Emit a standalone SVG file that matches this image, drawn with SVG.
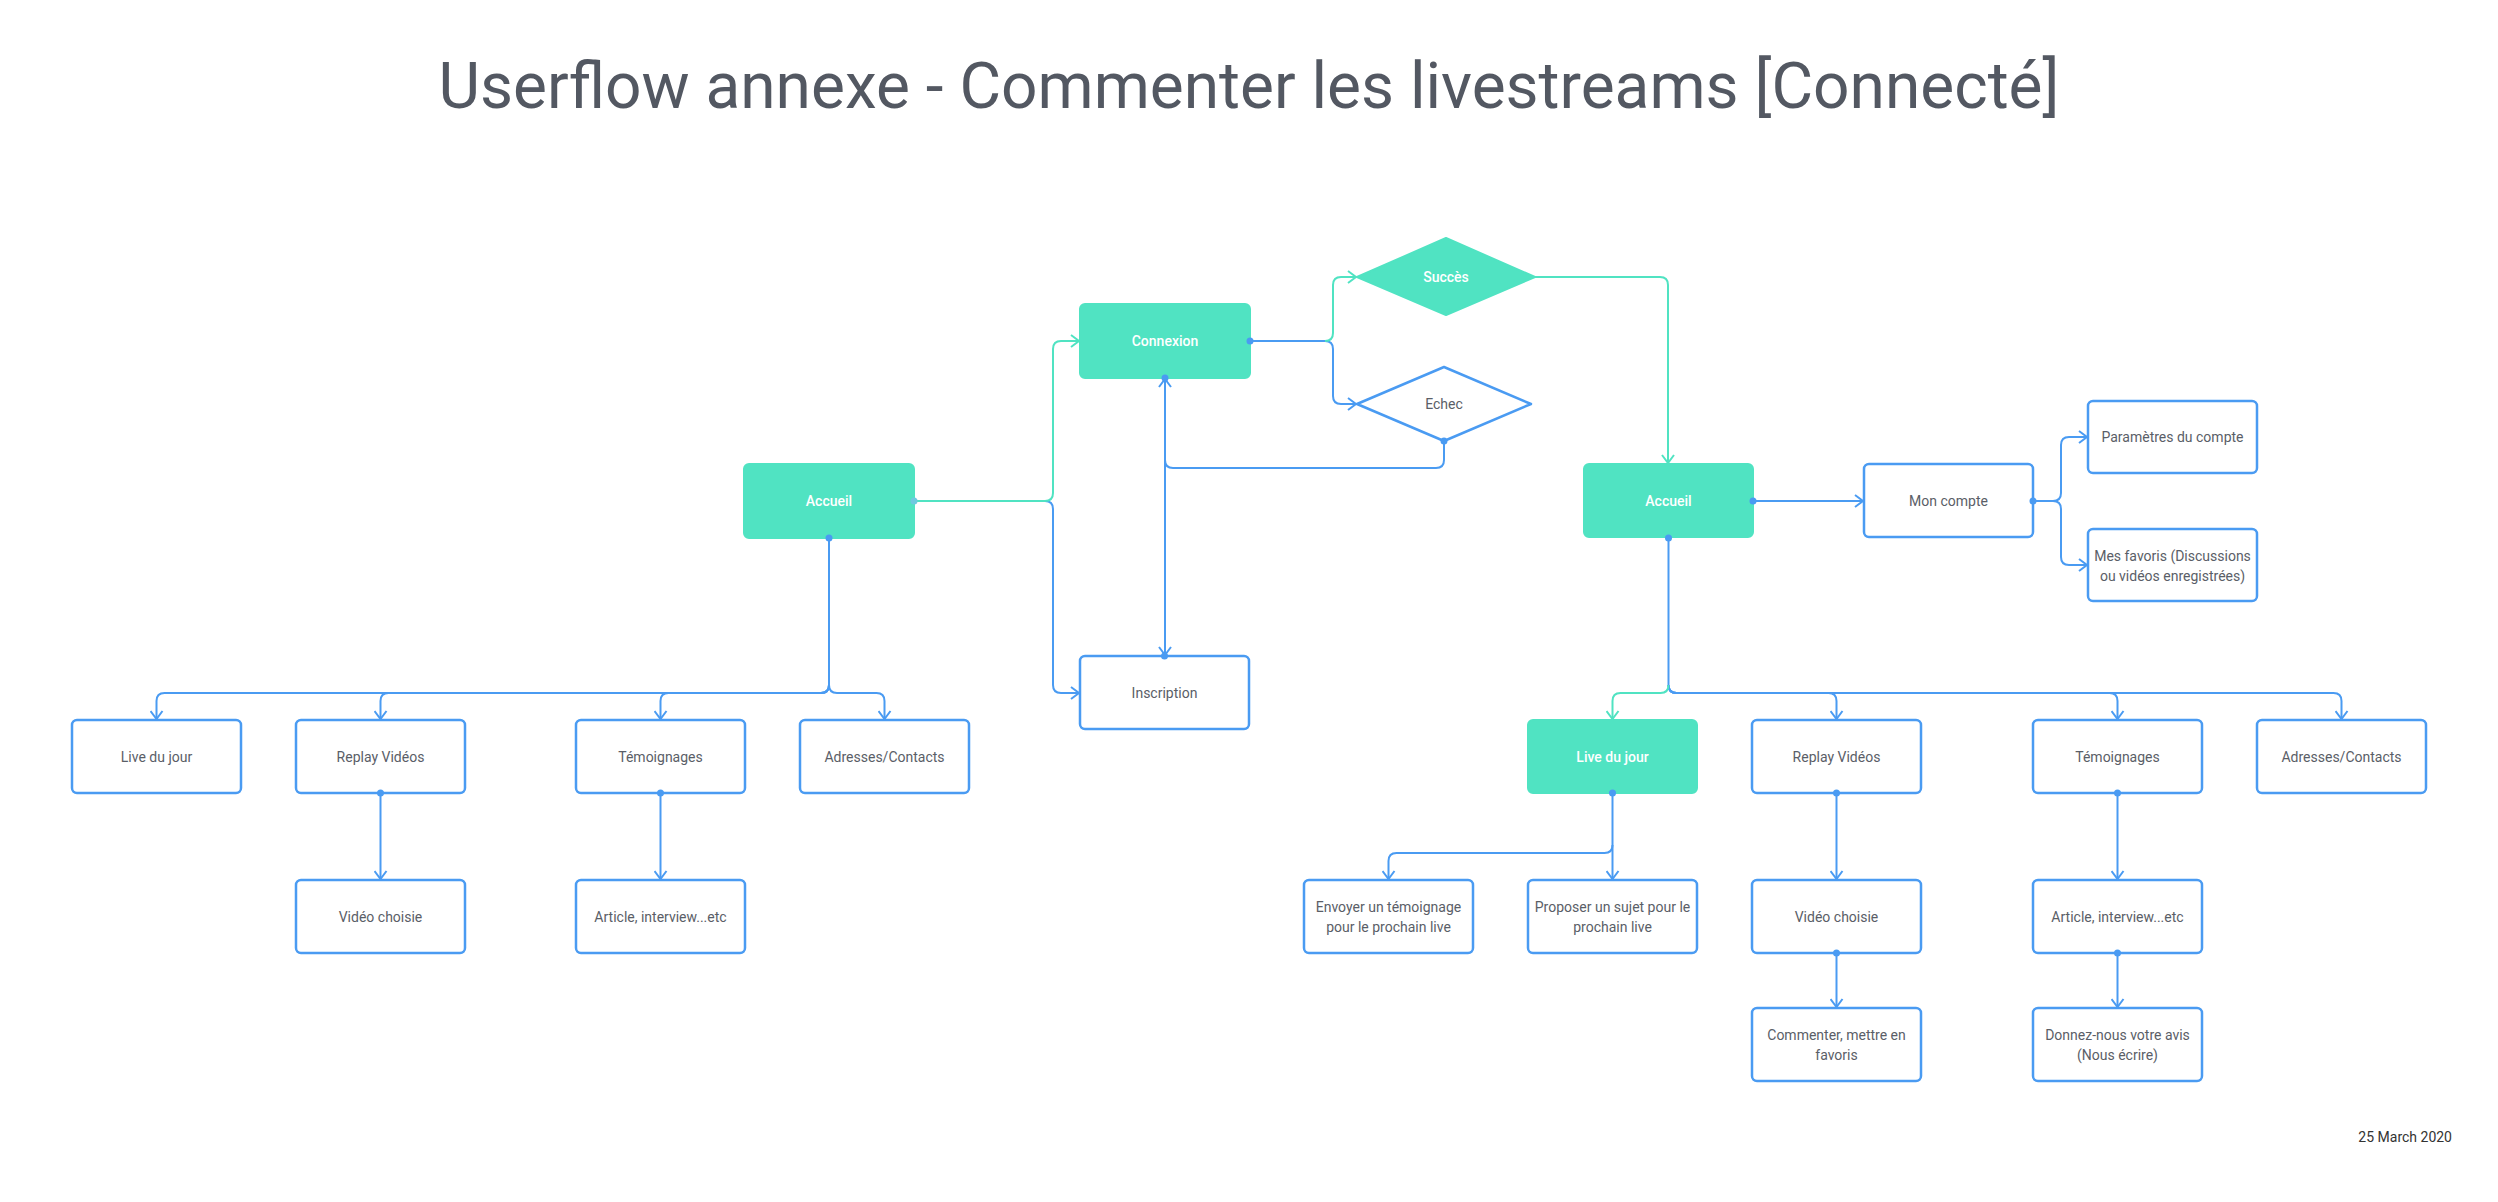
<svg xmlns="http://www.w3.org/2000/svg" width="2498" height="1202" viewBox="0 0 2498 1202">
<style>
.bg{fill:#ffffff}
.g rect,.g polygon{fill:#50E3C2;stroke:#50E3C2;stroke-width:2;stroke-linejoin:round}
.w rect,.w polygon{fill:#ffffff;stroke:#4A9BF2;stroke-width:2.5;stroke-linejoin:round}
.g text{fill:#ffffff;font-family:Roboto,"Liberation Sans",sans-serif;font-size:14px;font-weight:500;text-anchor:middle}
.w text{fill:#5a5e67;font-family:Roboto,"Liberation Sans",sans-serif;font-size:14px;text-anchor:middle}
.title{fill:#535862;font-family:Roboto,"Liberation Sans",sans-serif;font-size:64px;text-anchor:middle}
.date{fill:#333333;font-family:Roboto,"Liberation Sans",sans-serif;font-size:14px;text-anchor:end}
.cb{fill:none;stroke:#4A9BF2;stroke-width:2}
.cg{fill:none;stroke:#50E3C2;stroke-width:2}
</style>
<defs>
<marker id="ab" viewBox="0 0 10 14" refX="9" refY="7" markerWidth="10" markerHeight="14" markerUnits="userSpaceOnUse" orient="auto"><path d="M1,1 L9,7 L1,13" fill="none" stroke="#4A9BF2" stroke-width="2"/></marker>
<marker id="abs" viewBox="0 0 10 14" refX="9" refY="7" markerWidth="10" markerHeight="14" markerUnits="userSpaceOnUse" orient="auto-start-reverse"><path d="M1,1 L9,7 L1,13" fill="none" stroke="#4A9BF2" stroke-width="2"/></marker>
<marker id="ag" viewBox="0 0 10 14" refX="9" refY="7" markerWidth="10" markerHeight="14" markerUnits="userSpaceOnUse" orient="auto"><path d="M1,1 L9,7 L1,13" fill="none" stroke="#50E3C2" stroke-width="2"/></marker>
<marker id="db" viewBox="0 0 8 8" refX="4" refY="4" markerWidth="8" markerHeight="8" markerUnits="userSpaceOnUse"><circle cx="4" cy="4" r="3.5" fill="#4A9BF2"/></marker>
<marker id="dg" viewBox="0 0 8 8" refX="4" refY="4" markerWidth="8" markerHeight="8" markerUnits="userSpaceOnUse"><circle cx="4" cy="4" r="3.5" fill="#6fc9e0"/></marker>
</defs>
<rect class="bg" x="0" y="0" width="2498" height="1202"/>
<text class="title" x="1249" y="108">Userflow annexe - Commenter les livestreams [Connecté]</text>

<g id="nodes">
<g id="accueil-l" class="g"><rect x="744" y="464" width="170" height="74" rx="5"/><text x="829" y="506">Accueil</text></g>
<g id="connexion" class="g"><rect x="1080" y="304" width="170" height="74" rx="5"/><text x="1165" y="346">Connexion</text></g>
<g id="succes" class="g"><polygon points="1357,277 1446,238 1535,277 1446,315"/><text x="1446" y="282">Succès</text></g>
<g id="echec" class="w"><polygon points="1357,404 1444,367 1531,404 1444,441"/><text x="1444" y="409">Echec</text></g>
<g id="inscription" class="w"><rect x="1080" y="656" width="169" height="73" rx="5"/><text x="1164.5" y="697.5">Inscription</text></g>
<g id="accueil-r" class="g"><rect x="1584" y="464" width="169" height="73" rx="5"/><text x="1668.5" y="505.5">Accueil</text></g>
<g id="mon-compte" class="w"><rect x="1864" y="464" width="169" height="73" rx="5"/><text x="1948.5" y="505.5">Mon compte</text></g>
<g id="parametres" class="w"><rect x="2088" y="401" width="169" height="72" rx="5"/><text x="2172.5" y="441.5">Paramètres du compte</text></g>
<g id="favoris" class="w"><rect x="2088" y="529" width="169" height="72" rx="5"/><text x="2172.5" y="560.5">Mes favoris (Discussions</text><text x="2172.5" y="580.5">ou vidéos enregistrées)</text></g>

<g id="live-l" class="w"><rect x="72" y="720" width="169" height="73" rx="5"/><text x="156.5" y="761.5">Live du jour</text></g>
<g id="replay-l" class="w"><rect x="296" y="720" width="169" height="73" rx="5"/><text x="380.5" y="761.5">Replay Vidéos</text></g>
<g id="temoignages-l" class="w"><rect x="576" y="720" width="169" height="73" rx="5"/><text x="660.5" y="761.5">Témoignages</text></g>
<g id="adresses-l" class="w"><rect x="800" y="720" width="169" height="73" rx="5"/><text x="884.5" y="761.5">Adresses/Contacts</text></g>
<g id="video-l" class="w"><rect x="296" y="880" width="169" height="73" rx="5"/><text x="380.5" y="921.5">Vidéo choisie</text></g>
<g id="article-l" class="w"><rect x="576" y="880" width="169" height="73" rx="5"/><text x="660.5" y="921.5">Article, interview...etc</text></g>

<g id="live-r" class="g"><rect x="1528" y="720" width="169" height="73" rx="5"/><text x="1612.5" y="761.5">Live du jour</text></g>
<g id="replay-r" class="w"><rect x="1752" y="720" width="169" height="73" rx="5"/><text x="1836.5" y="761.5">Replay Vidéos</text></g>
<g id="temoignages-r" class="w"><rect x="2033" y="720" width="169" height="73" rx="5"/><text x="2117.5" y="761.5">Témoignages</text></g>
<g id="adresses-r" class="w"><rect x="2257" y="720" width="169" height="73" rx="5"/><text x="2341.5" y="761.5">Adresses/Contacts</text></g>
<g id="envoyer" class="w"><rect x="1304" y="880" width="169" height="73" rx="5"/><text x="1388.5" y="911.5">Envoyer un témoignage</text><text x="1388.5" y="931.5">pour le prochain live</text></g>
<g id="proposer" class="w"><rect x="1528" y="880" width="169" height="73" rx="5"/><text x="1612.5" y="911.5">Proposer un sujet pour le</text><text x="1612.5" y="931.5">prochain live</text></g>
<g id="video-r" class="w"><rect x="1752" y="880" width="169" height="73" rx="5"/><text x="1836.5" y="921.5">Vidéo choisie</text></g>
<g id="article-r" class="w"><rect x="2033" y="880" width="169" height="73" rx="5"/><text x="2117.5" y="921.5">Article, interview...etc</text></g>
<g id="commenter" class="w"><rect x="1752" y="1008" width="169" height="73" rx="5"/><text x="1836.5" y="1039.5">Commenter, mettre en</text><text x="1836.5" y="1059.5">favoris</text></g>
<g id="donnez" class="w"><rect x="2033" y="1008" width="169" height="73" rx="5"/><text x="2117.5" y="1039.5">Donnez-nous votre avis</text><text x="2117.5" y="1059.5">(Nous écrire)</text></g>
</g>

<g id="connectors">
<path class="cb" d="M1045,501 Q1053,501 1053,509 V685 Q1053,693 1061,693 H1079" marker-end="url(#ab)"/>
<path class="cg" d="M914,501 H1045 Q1053,501 1053,493 V349 Q1053,341 1061,341 H1079" marker-start="url(#dg)" marker-end="url(#ag)"/>
<path class="cb" d="M1165,379 V655" marker-start="url(#abs)" marker-end="url(#ab)"/>
<circle cx="1165" cy="378" r="3.5" fill="#4A9BF2"/>
<circle cx="1164.5" cy="656" r="3.5" fill="#4A9BF2"/>
<path class="cb" d="M1444,441 V460 Q1444,468 1436,468 H1173 Q1165,468 1165,460 V400" marker-start="url(#db)"/>
<path class="cb" d="M1250,341 H1325 Q1333,341 1333,349 V396 Q1333,404 1341,404 H1356" marker-start="url(#db)" marker-end="url(#ab)"/>
<path class="cg" d="M1325,341 Q1333,341 1333,333 V285 Q1333,277 1341,277 H1356" marker-end="url(#ag)"/>
<path class="cg" d="M1535,277 H1660 Q1668,277 1668,285 V463" marker-end="url(#ag)"/>

<path class="cb" d="M829,538 V685" marker-start="url(#db)"/>
<path class="cb" d="M829,685 Q829,693 821,693 H164.5 Q156.5,693 156.5,701 V719" marker-end="url(#ab)"/>
<path class="cb" d="M829,685 Q829,693 821,693 H388.5 Q380.5,693 380.5,701 V719" marker-end="url(#ab)"/>
<path class="cb" d="M829,685 Q829,693 821,693 H668.5 Q660.5,693 660.5,701 V719" marker-end="url(#ab)"/>
<path class="cb" d="M829,685 Q829,693 837,693 H876.5 Q884.5,693 884.5,701 V719" marker-end="url(#ab)"/>
<path class="cb" d="M380.5,793 V879" marker-start="url(#db)" marker-end="url(#ab)"/>
<path class="cb" d="M660.5,793 V879" marker-start="url(#db)" marker-end="url(#ab)"/>

<path class="cb" d="M1753,501 H1863" marker-start="url(#db)" marker-end="url(#ab)"/>
<path class="cb" d="M2033,501 H2053 Q2061,501 2061,493 V445 Q2061,437 2069,437 H2087" marker-start="url(#db)" marker-end="url(#ab)"/>
<path class="cb" d="M2053,501 Q2061,501 2061,509 V557 Q2061,565 2069,565 H2087" marker-end="url(#ab)"/>

<path class="cb" d="M1668.5,538 V685" marker-start="url(#db)"/>
<path class="cb" d="M1668.5,685 Q1668.5,693 1676.5,693 H1828.5 Q1836.5,693 1836.5,701 V719" marker-end="url(#ab)"/>
<path class="cb" d="M1668.5,685 Q1668.5,693 1676.5,693 H2109.5 Q2117.5,693 2117.5,701 V719" marker-end="url(#ab)"/>
<path class="cb" d="M1668.5,685 Q1668.5,693 1676.5,693 H2333.5 Q2341.5,693 2341.5,701 V719" marker-end="url(#ab)"/>
<path class="cg" d="M1668.5,685 Q1668.5,693 1660.5,693 H1620.5 Q1612.5,693 1612.5,701 V719" marker-end="url(#ag)"/>
<path class="cb" d="M1612.5,793 V879" marker-start="url(#db)" marker-end="url(#ab)"/>
<path class="cb" d="M1612.5,845 Q1612.5,853 1604.5,853 H1396.5 Q1388.5,853 1388.5,861 V879" marker-end="url(#ab)"/>
<path class="cb" d="M1836.5,793 V879" marker-start="url(#db)" marker-end="url(#ab)"/>
<path class="cb" d="M1836.5,953 V1007" marker-start="url(#db)" marker-end="url(#ab)"/>
<path class="cb" d="M2117.5,793 V879" marker-start="url(#db)" marker-end="url(#ab)"/>
<path class="cb" d="M2117.5,953 V1007" marker-start="url(#db)" marker-end="url(#ab)"/>
</g>

<text class="date" x="2452" y="1142">25 March 2020</text>
</svg>
